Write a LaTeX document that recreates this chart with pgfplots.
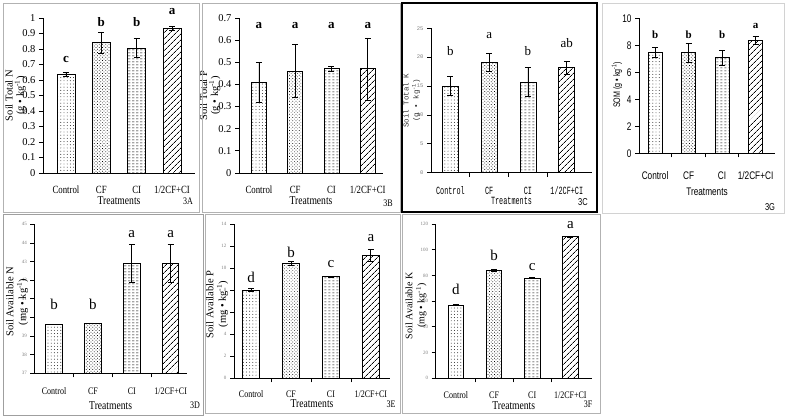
\documentclass[border=0pt]{standalone}
\usepackage{fontspec}
\setmainfont{Liberation Serif}
\newfontfamily\sercond[FakeStretch=0.8]{Liberation Serif}
\newfontfamily\monocond[FakeStretch=0.62]{Liberation Mono}
\newfontfamily\monof{Liberation Mono}
\newfontfamily\sanscond[FakeStretch=0.75]{Liberation Sans}
\usepackage{pgfplots}
\pgfplotsset{compat=1.18}
\usetikzlibrary{patterns,patterns.meta}

\tikzdeclarepattern{
  name=hdash,
  type=uncolored,
  bottom left={(0pt,0pt)},
  top right={(4pt,3pt)},
  tile size={(4pt,3pt)},
  code={\draw[line width=0.7pt] (0.3pt,1.5pt) -- (2.7pt,1.5pt);}
}

\pgfplotsset{
  panel/.style={
    scale only axis, clip=false,
    axis lines*=left,
    axis line style={line width=0.9pt, black},
    xtick={0,1,2,3},
    xticklabels={Control,CF,CI,1/2CF+CI},
    major x tick style={draw=none},
    tick align=outside,
    major tick length=4pt, minor tick length=4pt,
    tick style={black, line width=0.8pt},
    /pgf/number format/assume math mode=true,
  },
  bnd/.style={minor xtick={0.5,1.5,2.5}},
  bar/.style={ybar, bar shift=0pt, draw=black, line width=0.9pt, fill=white},
  eb/.style={error bars/.cd, y dir=both, y explicit,
    error bar style={line width=0.8pt, black},
    error mark options={rotate=90, mark size=3pt, line width=0.8pt, black}},
  p1/.style={pattern={Dots[radius=0.45pt,distance=3.2pt]}},
  p2/.style={pattern={Dots[radius=0.5pt,distance=2.3pt,angle=45]}},
  p3/.style={pattern=hdash},
  p4/.style={pattern={Lines[angle=45,distance=4pt,line width=0.7pt]}},
}

\begin{document}
\begin{tikzpicture}
\path[use as bounding box] (0pt,0pt) rectangle (787pt,420pt);

% ---------------- 3A ----------------
\begin{axis}[panel, at={(43pt,247pt)}, anchor=south west, width=152pt, height=155pt,
  xmin=-0.65, xmax=3.65, ymin=0, ymax=1, bar width=18pt,
  ytick={0,0.1,0.2,0.3,0.4,0.5,0.6,0.7,0.8,0.9,1},
  yticklabel style={font=\fontsize{10.5}{10}\selectfont},
  xticklabel style={anchor=center, yshift=-12.5pt, font=\sercond\fontsize{11}{11}\selectfont},
  ylabel={Soil Total N\\[1pt](g • kg\textsuperscript{-1})},
  ylabel style={at={(axis description cs:-0.18,0.5)}, anchor=center, align=center, font=\fontsize{10.5}{10}\selectfont},
  xlabel={Treatments},
  xlabel style={at={(axis description cs:0.5,-0.18)}, anchor=center, font=\sercond\fontsize{12}{12}\selectfont}]
\addplot[bar,p1,eb] coordinates {(0,0.635) +- (0,0.012)};
\addplot[bar,p2,eb] coordinates {(1,0.84) +- (0,0.07)};
\addplot[bar,p3,eb] coordinates {(2,0.805) +- (0,0.062)};
\addplot[bar,p4,eb] coordinates {(3,0.935) +- (0,0.012)};
\node[font=\bfseries\fontsize{13}{13}\selectfont] at (axis cs:0,0.735) {c};
\node[font=\bfseries\fontsize{13}{13}\selectfont] at (axis cs:1,0.975) {b};
\node[font=\bfseries\fontsize{13}{13}\selectfont] at (axis cs:2,0.975) {b};
\node[font=\bfseries\fontsize{13}{13}\selectfont] at (axis cs:3,1.04) {a};
\end{axis}

% ---------------- 3B ----------------
\begin{axis}[panel, at={(239pt,247pt)}, anchor=south west, width=144pt, height=155pt,
  xmin=-0.55, xmax=3.42, ymin=0, ymax=0.7, bar width=15pt,
  ytick={0,0.1,0.2,0.3,0.4,0.5,0.6,0.7},
  yticklabel style={font=\fontsize{10.5}{10}\selectfont},
  xticklabel style={anchor=center, yshift=-12.5pt, font=\sercond\fontsize{11}{11}\selectfont},
  ylabel={Soil Total P\\[1pt](g • kg\textsuperscript{-1})},
  ylabel style={at={(axis description cs:-0.2,0.5)}, anchor=center, align=center, font=\fontsize{10.5}{10}\selectfont},
  xlabel={Treatments},
  xlabel style={at={(axis description cs:0.5,-0.18)}, anchor=center, font=\sercond\fontsize{12}{12}\selectfont}]
\addplot[bar,p1,eb] coordinates {(0,0.41) +- (0,0.09)};
\addplot[bar,p2,eb] coordinates {(1,0.46) +- (0,0.12)};
\addplot[bar,p3,eb] coordinates {(2,0.47) +- (0,0.012)};
\addplot[bar,p4,eb] coordinates {(3,0.47) +- (0,0.14)};
\node[font=\bfseries\fontsize{13}{13}\selectfont] at (axis cs:0,0.665) {a};
\node[font=\bfseries\fontsize{13}{13}\selectfont] at (axis cs:1,0.665) {a};
\node[font=\bfseries\fontsize{13}{13}\selectfont] at (axis cs:2,0.665) {a};
\node[font=\bfseries\fontsize{13}{13}\selectfont] at (axis cs:3,0.665) {a};
\end{axis}

% ---------------- 3C ----------------
\begin{axis}[panel, bnd, at={(431pt,247.3pt)}, anchor=south west, width=161pt, height=144.4pt,
  xmin=-0.5, xmax=3.65, ymin=0, ymax=25, bar width=16pt,
  ytick={0,5,10,15,20,25},
  yticklabel style={font=\monof\fontsize{5.5}{5}\selectfont, text=gray},
  xticklabel style={anchor=center, yshift=-14pt, font=\monocond\fontsize{11}{11}\selectfont},
  ylabel={Soil Total K\\[1pt](g • kg\textsuperscript{-1})},
  ylabel style={at={(axis description cs:-0.12,0.5)}, anchor=center, align=center, font=\monof\fontsize{7.5}{9}\selectfont, text=black!80},
  xlabel={Treatments},
  xlabel style={at={(axis description cs:0.5,-0.195)}, anchor=center, font=\monocond\fontsize{11}{11}\selectfont}]
\addplot[bar,p1,eb] coordinates {(0,15.0) +- (0,1.7)};
\addplot[bar,p2,eb] coordinates {(1,19.1) +- (0,1.6)};
\addplot[bar,p3,eb] coordinates {(2,15.7) +- (0,2.5)};
\addplot[bar,p4,eb] coordinates {(3,18.2) +- (0,1.1)};
\node[font=\fontsize{13}{13}\selectfont] at (axis cs:0,21) {b};
\node[font=\fontsize{13}{13}\selectfont] at (axis cs:1,23.7) {a};
\node[font=\fontsize{13}{13}\selectfont] at (axis cs:2,21) {b};
\node[font=\fontsize{13}{13}\selectfont] at (axis cs:3,22.4) {ab};
\end{axis}

% ---------------- 3G ----------------
\begin{axis}[panel, bnd, at={(639pt,266.7pt)}, anchor=south west, width=136pt, height=135pt,
  xmin=-0.48, xmax=3.58, ymin=0, ymax=10, bar width=14pt,
  ytick={0,2,4,6,8,10},
  yticklabel style={font=\sanscond\fontsize{11}{11}\selectfont},
  xticklabel style={anchor=center, yshift=-18.7pt, font=\sanscond\fontsize{11}{11}\selectfont},
  ylabel={SOM (g • kg\textsuperscript{-1})},
  ylabel style={at={(axis description cs:-0.162,0.506)}, anchor=center, font=\sanscond\fontsize{9.5}{9}\selectfont},
  xlabel={Treatments},
  xlabel style={at={(axis description cs:0.5,-0.287)}, anchor=center, font=\sanscond\fontsize{11}{11}\selectfont}]
\addplot[bar,p1,eb] coordinates {(0,7.45) +- (0,0.37)};
\addplot[bar,p2,eb] coordinates {(1,7.45) +- (0,0.7)};
\addplot[bar,p3,eb] coordinates {(2,7.07) +- (0,0.58)};
\addplot[bar,p4,eb] coordinates {(3,8.35) +- (0,0.3)};
\node[font=\bfseries\fontsize{11}{11}\selectfont] at (axis cs:0,8.8) {b};
\node[font=\bfseries\fontsize{11}{11}\selectfont] at (axis cs:1,8.8) {b};
\node[font=\bfseries\fontsize{11}{11}\selectfont] at (axis cs:2,8.8) {b};
\node[font=\bfseries\fontsize{11}{11}\selectfont] at (axis cs:3,9.45) {a};
\end{axis}

% ---------------- 3D ----------------
\begin{axis}[panel, bnd, clip=true, at={(34.3pt,46.7pt)}, anchor=south west, width=152.7pt, height=149pt,
  xmin=-0.51, xmax=3.42, ymin=37, ymax=45, bar width=16.5pt,
  ytick={37,38,39,40,41,42,43,44,45},
  yticklabel style={font=\fontsize{5}{5}\selectfont, text=gray},
  xticklabel style={anchor=center, yshift=-14pt, font=\sercond\fontsize{10}{10}\selectfont},
  ylabel={Soil Available N\\[1.5pt](mg • kg\textsuperscript{-1})},
  ylabel style={at={(axis description cs:-0.113,0.48)}, anchor=center, align=center, font=\fontsize{10.5}{11}\selectfont},
  xlabel={Treatments},
  xlabel style={at={(axis description cs:0.5,-0.215)}, anchor=center, font=\sercond\fontsize{12}{12}\selectfont}]
\addplot[bar,p1] coordinates {(0,39.6)};
\addplot[bar,p2] coordinates {(1,39.7)};
\addplot[bar,p3,eb] coordinates {(2,42.9) +- (0,1.0)};
\addplot[bar,p4,eb] coordinates {(3,42.9) +- (0,1.0)};
\node[font=\fontsize{15}{15}\selectfont] at (axis cs:0,40.7) {b};
\node[font=\fontsize{15}{15}\selectfont] at (axis cs:1,40.7) {b};
\node[font=\fontsize{15}{15}\selectfont] at (axis cs:2,44.45) {a};
\node[font=\fontsize{15}{15}\selectfont] at (axis cs:3,44.45) {a};
\end{axis}

% ---------------- 3E ----------------
\begin{axis}[panel, bnd, at={(234pt,41.7pt)}, anchor=south west, width=156pt, height=154.3pt,
  xmin=-0.43, xmax=3.48, ymin=0, ymax=14, bar width=16.5pt,
  ytick={0,2,4,6,8,10,12,14},
  yticklabel style={font=\fontsize{5}{5}\selectfont, text=gray},
  xticklabel style={anchor=center, yshift=-12pt, font=\sercond\fontsize{10}{10}\selectfont},
  ylabel={Soil Available P\\[1.5pt](mg • kg\textsuperscript{-1})},
  ylabel style={at={(axis description cs:-0.109,0.48)}, anchor=center, align=center, font=\fontsize{10.5}{11}\selectfont},
  xlabel={Treatments},
  xlabel style={at={(axis description cs:0.5,-0.165)}, anchor=center, font=\sercond\fontsize{12}{12}\selectfont}]
\addplot[bar,p1,eb] coordinates {(0,8.0) +- (0,0.15)};
\addplot[bar,p2,eb] coordinates {(1,10.4) +- (0,0.2)};
\addplot[bar,p3,eb] coordinates {(2,9.2) +- (0,0.05)};
\addplot[bar,p4,eb] coordinates {(3,11.15) +- (0,0.5)};
\node[font=\fontsize{15}{15}\selectfont] at (axis cs:0,9.2) {d};
\node[font=\fontsize{15}{15}\selectfont] at (axis cs:1,11.4) {b};
\node[font=\fontsize{15}{15}\selectfont] at (axis cs:2,10.4) {c};
\node[font=\fontsize{15}{15}\selectfont] at (axis cs:3,12.75) {a};
\end{axis}

% ---------------- 3F ----------------
\begin{axis}[panel, bnd, at={(435.7pt,41.7pt)}, anchor=south west, width=156pt, height=154.3pt,
  xmin=-0.53, xmax=3.56, ymin=0, ymax=120, bar width=15.5pt,
  ytick={0,20,40,60,80,100,120},
  yticklabel style={font=\fontsize{5}{5}\selectfont, text=gray},
  xticklabel style={anchor=center, yshift=-12.5pt, font=\sercond\fontsize{10}{10}\selectfont},
  ylabel={Soil Available K\\[1.5pt](mg • kg\textsuperscript{-1})},
  ylabel style={at={(axis description cs:-0.126,0.47)}, anchor=center, align=center, font=\fontsize{10}{10.5}\selectfont},
  xlabel={Treatments},
  xlabel style={at={(axis description cs:0.5,-0.178)}, anchor=center, font=\sercond\fontsize{12}{12}\selectfont}]
\addplot[bar,p1,eb] coordinates {(0,57.0) +- (0,0.5)};
\addplot[bar,p2,eb] coordinates {(1,84.0) +- (0,0.5)};
\addplot[bar,p3,eb] coordinates {(2,78.0) +- (0,0.4)};
\addplot[bar,p4,eb] coordinates {(3,110.0) +- (0,0.5)};
\node[font=\fontsize{15}{15}\selectfont] at (axis cs:0,69.2) {d};
\node[font=\fontsize{15}{15}\selectfont] at (axis cs:1,95.9) {b};
\node[font=\fontsize{15}{15}\selectfont] at (axis cs:2,86.8) {c};
\node[font=\fontsize{15}{15}\selectfont] at (axis cs:3,119.2) {a};
\end{axis}

% ---------------- frames and panel tags ----------------
\draw[gray!60, line width=0.8pt] (3pt,208pt) rectangle (199pt,417pt);
\draw[gray!60, line width=0.8pt] (202pt,208pt) rectangle (400pt,417pt);
\draw[black, line width=1.1pt] (402pt,208pt) rectangle (597pt,417pt);
\draw[gray!35, line width=0.8pt] (602pt,207pt) rectangle (784pt,417pt);
\draw[gray!75, line width=0.8pt] (3pt,5pt) rectangle (203pt,206pt);
\draw[gray!60, line width=0.8pt] (205pt,7pt) rectangle (400pt,206pt);
\draw[gray!60, line width=0.8pt] (402pt,7pt) rectangle (600pt,206pt);

\node[font=\sercond\fontsize{10}{10}\selectfont] at (188pt,218.3pt) {3A};
\node[font=\sercond\fontsize{10}{10}\selectfont] at (388pt,217pt) {3B};
\node[font=\sanscond\fontsize{10}{10}\selectfont] at (583pt,218pt) {3C};
\node[font=\sanscond\fontsize{10}{10}\selectfont] at (770pt,213pt) {3G};
\node[font=\sercond\fontsize{10}{10}\selectfont] at (195pt,15pt) {3D};
\node[font=\sercond\fontsize{10}{10}\selectfont] at (391pt,16pt) {3E};
\node[font=\sercond\fontsize{10}{10}\selectfont] at (588pt,16pt) {3F};
\end{tikzpicture}
\end{document}
